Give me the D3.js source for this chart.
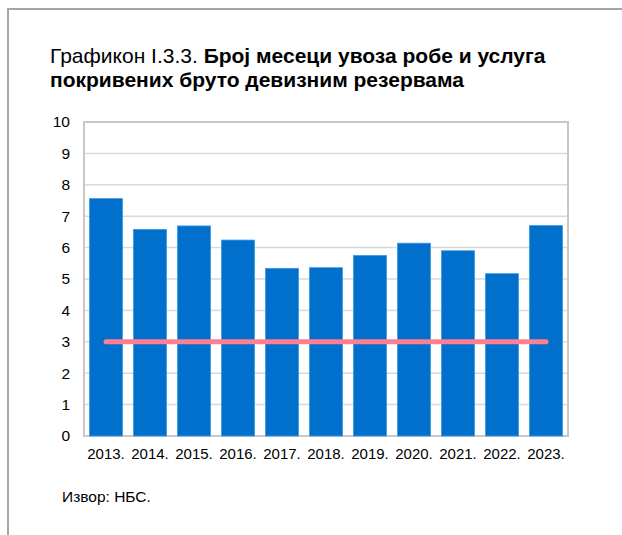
<!DOCTYPE html>
<html><head><meta charset="utf-8">
<script src="https://cdn.jsdelivr.net/npm/d3@7"></script>
<style>body{margin:0;background:#fff;}svg{display:block;font-family:"Liberation Sans",Arial,sans-serif;}</style>
</head><body><svg id="c" width="622" height="535"></svg>
<script>
const years = ["2013.","2014.","2015.","2016.","2017.","2018.","2019.","2020.","2021.","2022.","2023."];
const months = [7.56,6.58,6.69,6.24,5.34,5.36,5.75,6.14,5.90,5.17,6.70];
const threshold = [3,3,3,3,3,3,3,3,3,3,3];
const yTicks = [0,1,2,3,4,5,6,7,8,9,10];

const svg = d3.select("#c");
// outer frame
svg.append("rect").attr("x",8).attr("y",9).attr("width",640).attr("height",560)
  .attr("fill","none").attr("stroke","#a6a6a6").attr("stroke-width",2);

const title = svg.append("text").attr("x",50).attr("y",63).attr("font-size",21).attr("fill","#000");
title.append("tspan").text("Графикон I.3.3. ");
title.append("tspan").attr("font-weight","bold").text("Број месеци увоза робе и услуга");
svg.append("text").attr("x",50).attr("y",87).attr("font-size",21).attr("font-weight","bold").text("покривених бруто девизним резервама");

const L=84, R=568, T=122, B=436;
const x = d3.scaleBand().domain(years).range([L,R]).paddingInner(0.25).paddingOuter(0.125);
const y = d3.scaleLinear().domain([0,10]).range([B,T]);

// gridlines
svg.append("g").selectAll("line").data(yTicks.filter(d=>d>0&&d<10)).join("line")
  .attr("x1",L).attr("x2",R).attr("y1",d=>y(d)).attr("y2",d=>y(d))
  .attr("stroke","#d9d9d9").attr("stroke-width",1.5);

// plot frame
svg.append("rect").attr("x",L).attr("y",T).attr("width",R-L).attr("height",B-T)
  .attr("fill","none").attr("stroke","#c8c8c8").attr("stroke-width",2);

// bars
svg.append("g").selectAll("rect").data(months).join("rect")
  .attr("x",(d,i)=>x(years[i])).attr("width",x.bandwidth())
  .attr("y",d=>y(d)).attr("height",d=>B-y(d))
  .attr("fill","#0070cc").attr("stroke","#3f97e2").attr("stroke-width",0.8);

// threshold line
const line = d3.line().x((d,i)=>x(years[i])+x.bandwidth()/2).y(d=>y(d));
svg.append("path").datum(threshold).attr("d",line).attr("fill","none")
  .attr("stroke","#ff7f91").attr("stroke-width",5).attr("stroke-linecap","round");

// y axis
const ya = svg.append("g").attr("transform",`translate(${L},0)`)
  .call(d3.axisLeft(y).tickValues(yTicks).tickSize(0).tickPadding(14).tickFormat(d3.format("d")));
ya.select(".domain").remove();
ya.selectAll("text").attr("font-size",15.5).attr("fill","#000").attr("font-family","Liberation Sans, Arial, sans-serif");

// x axis
const xa = svg.append("g").attr("transform",`translate(0,${B})`)
  .call(d3.axisBottom(x).tickSize(0).tickPadding(12));
xa.select(".domain").remove();
xa.selectAll("text").attr("font-size",15).attr("fill","#000").attr("font-family","Liberation Sans, Arial, sans-serif");

svg.append("text").attr("x",62).attr("y",502).attr("font-size",15.5).attr("fill","#000").text("Извор: НБС.");
</script></body></html>
